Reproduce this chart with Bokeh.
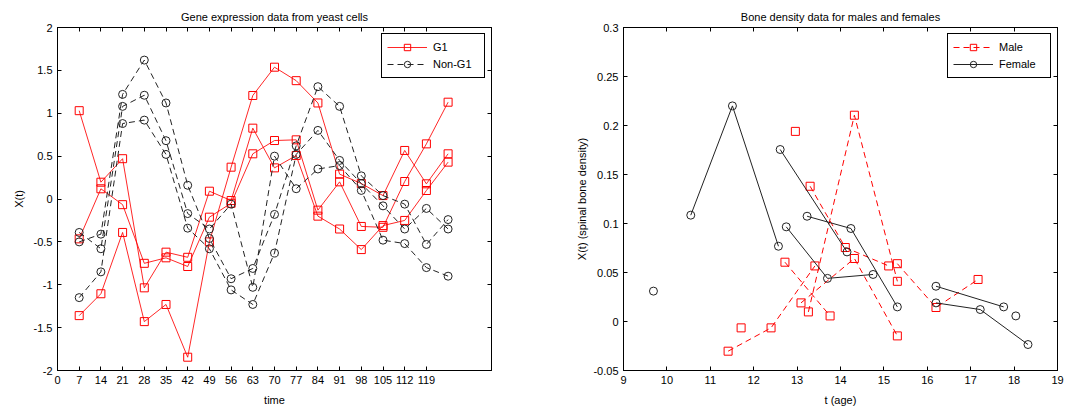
from bokeh.plotting import figure
from bokeh.layouts import row
from bokeh.models import FixedTicker, LinearAxis, Legend, LegendItem, Range1d
from bokeh.embed import file_html
from bokeh.resources import INLINE

FONT = "Liberation Sans"

# ---------------- data: yeast gene expression ----------------
time = [7, 14, 21, 28, 35, 42, 49, 56, 63, 70, 77, 84, 91, 98, 105, 112, 119, 126]
g1_a = [1.03, 0.196, 0.47, -1.036, -0.62, -0.68, 0.091, -0.018, 0.826, 0.363, 0.507, -0.20, -0.35, -0.59, -0.31, -0.25, 0.099, 0.43]
g1_b = [-0.465, 0.119, -0.066, -0.75, -0.686, -0.787, -0.212, -0.05, 0.527, 0.682, 0.69, -0.13, 0.20, -0.32, -0.33, 0.204, 0.643, 1.129]
g1_c = [-1.36, -1.105, -0.39, -1.43, -1.23, -1.845, -0.50, 0.371, 1.207, 1.537, 1.38, 1.12, 0.29, 0.18, 0.04, 0.566, 0.177, 0.527]
ng_a = [-0.50, -0.41, 1.22, 1.62, 1.12, 0.16, -0.46, -0.93, -0.81, -0.18, 0.62, 1.31, 1.08, 0.27, 0.04, -0.06, -0.53, -0.24]
ng_b = [-0.39, -0.58, 1.08, 1.21, 0.68, -0.17, -0.35, -0.06, -1.03, 0.50, 0.12, 0.35, 0.39, 0.10, -0.48, -0.52, -0.80, -0.90]
ng_c = [-1.15, -0.85, 0.88, 0.92, 0.52, -0.34, -0.58, -1.06, -1.23, -0.63, 0.52, 0.80, 0.45, 0.18, -0.08, -0.35, -0.11, -0.35]

yeast_xticks = [0, 7, 14, 21, 28, 35, 42, 49, 56, 63, 70, 77, 84, 91, 98, 105, 112, 119]
yeast_xlabels = [str(t) for t in yeast_xticks]
yeast_yticks = [-2, -1.5, -1, -0.5, 0, 0.5, 1, 1.5, 2]
yeast_ylabels = ["-2", "-1.5", "-1", "-0.5", "0", "0.5", "1", "1.5", "2"]

# ---------------- data: bone density ----------------
male_age = [[11.41, 12.40, 13.41], [12.72, 13.76], [13.26, 14.32, 15.31], [13.30, 14.11, 15.11],
            [13.09, 14.32, 15.31], [15.31, 16.20, 17.17], [12.96], [11.71]]
male_bmd = [[-0.0303, -0.0065, 0.0567], [0.0605, 0.0057], [0.0098, 0.2105, 0.041], [0.138, 0.0755, 0.0567],
            [0.019, 0.0643, -0.0147], [0.059, 0.0143, 0.0429], [0.194], [-0.0065]]
female_age = [[10.55, 11.51, 12.57], [9.69], [12.61, 14.15], [13.23, 14.24, 15.31], [12.75, 13.70, 14.75],
              [16.20, 17.76], [16.20, 17.22, 18.32], [18.04]]
female_bmd = [[0.1085, 0.22, 0.0768], [0.031], [0.1755, 0.071], [0.1074, 0.0949, 0.0149], [0.0966, 0.044, 0.048],
              [0.036, 0.0149], [0.019, 0.0122, -0.0235], [0.0057]]

bone_xticks = [9, 10, 11, 12, 13, 14, 15, 16, 17, 18, 19]
bone_xlabels = [str(t) for t in bone_xticks]
bone_yticks = [-0.05, 0, 0.05, 0.1, 0.15, 0.2, 0.25, 0.3]
bone_ylabels = ["-0.05", "0", "0.05", "0.1", "0.15", "0.2", "0.25", "0.3"]


def style_axis(ax, ticks, labels, show_labels=True):
    ax.ticker = FixedTicker(ticks=ticks)
    ax.major_tick_in = 4
    ax.major_tick_out = 0
    ax.minor_tick_line_color = None
    ax.axis_line_color = "black"
    ax.major_tick_line_color = "black"
    if show_labels:
        ax.major_label_overrides = {t: l for t, l in zip(ticks, labels)}
        ax.major_label_text_font = FONT
        ax.major_label_text_font_size = "11px"
        ax.major_label_text_color = "black"
        ax.major_label_standoff = 5
    else:
        ax.major_label_text_font_size = "0px"
        ax.major_label_text_color = None
        ax.major_label_standoff = 0


def make_fig(title, xr, yr, width, left, right, xt, xl, yt, yl, xlabel, ylabel, ylab_standoff):
    p = figure(width=width, height=410, x_range=Range1d(*xr), y_range=Range1d(*yr),
               output_backend="svg", toolbar_location=None,
               min_border_left=left, min_border_right=right, min_border_top=27, min_border_bottom=40)
    p.title.text = title
    p.title.align = "center"
    p.title.text_font = FONT
    p.title.text_font_size = "11px"
    p.title.text_font_style = "normal"
    p.title.text_color = "black"
    p.xgrid.visible = False
    p.ygrid.visible = False
    p.outline_line_color = "black"
    p.outline_line_alpha = 1
    p.background_fill_color = "white"
    p.border_fill_color = "white"
    style_axis(p.xaxis[0], xt, xl)
    style_axis(p.yaxis[0], yt, yl)
    for ax, lab in ((p.xaxis[0], xlabel), (p.yaxis[0], ylabel)):
        ax.axis_label = lab
        ax.axis_label_text_font = FONT
        ax.axis_label_text_font_size = "11px"
        ax.axis_label_text_font_style = "normal"
        ax.axis_label_text_color = "black"
    p.xaxis[0].axis_label_standoff = 7
    p.yaxis[0].axis_label_standoff = ylab_standoff
    top = LinearAxis()
    style_axis(top, xt, xl, show_labels=False)
    p.add_layout(top, "above")
    rgt = LinearAxis()
    style_axis(rgt, yt, yl, show_labels=False)
    p.add_layout(rgt, "right")
    return p


def make_legend(items):
    lg = Legend(items=items, location="top_right")
    lg.border_line_color = "black"
    lg.border_line_width = 1
    lg.border_line_alpha = 1
    lg.background_fill_color = "white"
    lg.background_fill_alpha = 1
    lg.padding = 5
    lg.spacing = 1
    lg.margin = 6
    lg.glyph_width = 40
    lg.glyph_height = 16
    lg.label_height = 16
    lg.label_width = 46
    lg.label_standoff = 6
    lg.label_text_font = FONT
    lg.label_text_font_size = "11px"
    lg.label_text_color = "black"
    return lg


RED = "#ff0000"
DARK = "#222222"

# ---------------- left figure ----------------
p1 = make_fig("Gene expression data from yeast cells", (0, 140), (-2, 2), 570, 57, 79,
              yeast_xticks, yeast_xlabels, yeast_yticks, yeast_ylabels, "time", "X(t)", 6)

g1_series = [g1_a, g1_b, g1_c]
ng_series = [ng_a, ng_b, ng_c]

r_g1_line = p1.multi_line(xs=[time] * len(g1_series), ys=g1_series, line_color=RED, line_width=1, line_alpha=0.85)
r_g1_pts = p1.scatter(x=time * len(g1_series), y=[v for s in g1_series for v in s], marker="square", size=8,
                      fill_color=None, line_color=RED, line_width=1)
r_ng_line = p1.multi_line(xs=[time] * len(ng_series), ys=ng_series, line_color=DARK, line_width=1,
                          line_dash="6 4")
r_ng_pts = p1.scatter(x=time * len(ng_series), y=[v for s in ng_series for v in s], marker="circle", size=8,
                      fill_color=None, line_color=DARK, line_width=1)
p1.add_layout(make_legend([LegendItem(label="G1", renderers=[r_g1_line, r_g1_pts]),
                           LegendItem(label="Non-G1", renderers=[r_ng_line, r_ng_pts])]))

# ---------------- right figure ----------------
p2 = make_fig("Bone density data for males and females", (9, 19), (-0.05, 0.3), 496, 53, 9,
              bone_xticks, bone_xlabels, bone_yticks, bone_ylabels, "t (age)", "X(t) (spinal bone density)", 2)

r_m_line = p2.multi_line(xs=male_age, ys=male_bmd, line_color=RED, line_width=1, line_dash="6 4")
r_m_pts = p2.scatter(x=[a for s in male_age for a in s], y=[v for s in male_bmd for v in s], marker="square",
                     size=8, fill_color=None, line_color=RED, line_width=1)
r_f_line = p2.multi_line(xs=female_age, ys=female_bmd, line_color=DARK, line_width=1)
r_f_pts = p2.scatter(x=[a for s in female_age for a in s], y=[v for s in female_bmd for v in s], marker="circle",
                     size=8, fill_color=None, line_color=DARK, line_width=1)
p2.add_layout(make_legend([LegendItem(label="Male", renderers=[r_m_line, r_m_pts]),
                           LegendItem(label="Female", renderers=[r_f_line, r_f_pts])]))

layout = row(p1, p2)
open("out.html", "w").write(file_html(layout, INLINE))
